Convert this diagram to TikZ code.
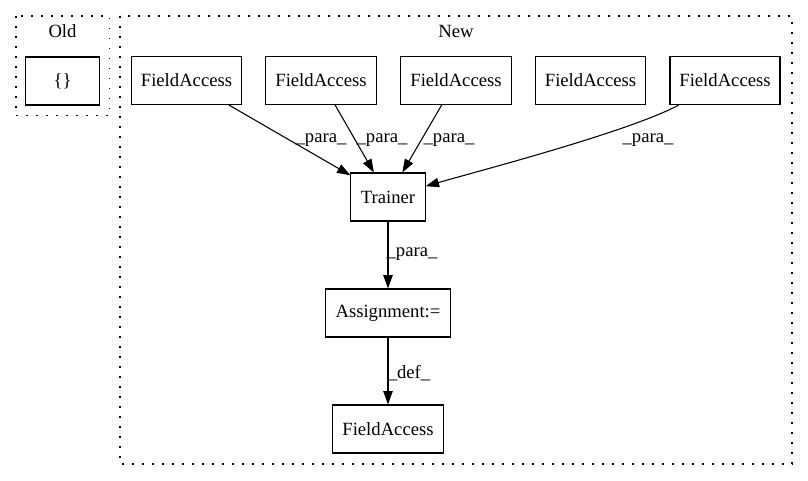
\documentclass[tikz,border=0pt]{standalone}
\usepackage{fontspec}
\setmainfont{Liberation Serif}
\usetikzlibrary{arrows.meta}
\begin{document}
\begin{tikzpicture}[x=0.75pt,y=-0.75pt,
  font=\fontsize{14pt}{16pt}\selectfont,
  box/.style={draw, line width=0.8pt, minimum height=36pt, inner sep=0pt},
  cluster/.style={line width=0.9pt, dash pattern=on 1.2pt off 6.3pt},
  edge/.style={line width=0.8pt, -{Triangle[length=10pt,width=7pt]}},
  lbl/.style={inner sep=0pt}]
\useasboundingbox (0,0) rectangle (808,480);
% clusters
\draw[cluster] (16,16) rectangle (109.7,115.7);
\node (old) at (62.5,31){Old};
\draw[cluster] (120,16) rectangle (792,464);
\node (new) at (456,31){New};
% nodes
\node[box, minimum width=55pt] (curly) at (62.5,81){\{\}};
\node[box, minimum width=83pt] (fa1) at (186.5,80.5){FieldAccess};
\node[box, minimum width=83pt] (fa2) at (321,80.5){FieldAccess};
\node[box, minimum width=83pt] (fa3) at (456,80.5){FieldAccess};
\node[box, minimum width=83pt] (fa4) at (590.5,80.5){FieldAccess};
\node[box, minimum width=82.5pt] (fa5) at (725,80.5){FieldAccess};
\node[box, minimum width=55.7pt] (trainer) at (388,197){Trainer};
\node[box, minimum width=94pt] (assign) at (388,313){Assignment:=};
\node[box, minimum width=83pt] (fa6) at (388,429){FieldAccess};
% edges
\draw[edge](fa1) -- (trainer);
\draw[edge](fa2) -- (trainer);
\draw[edge](fa3) -- (trainer);
\draw[edge](fa5) to[out=208, in=16, looseness=0.55] (trainer);
\draw[edge](trainer) -- (assign);
\draw[edge](assign) -- (fa6);
% edge labels
\node[lbl] (l1) at (321,140){\_para\_};
\node[lbl] (l2) at (382,140){\_para\_};
\node[lbl] (l3) at (449,140){\_para\_};
\node[lbl] (l5) at (648,140){\_para\_};
\node[lbl] (l6) at (412,254){\_para\_};
\node[lbl] (l7) at (409,373){\_def\_};
\end{tikzpicture}
\end{document}
